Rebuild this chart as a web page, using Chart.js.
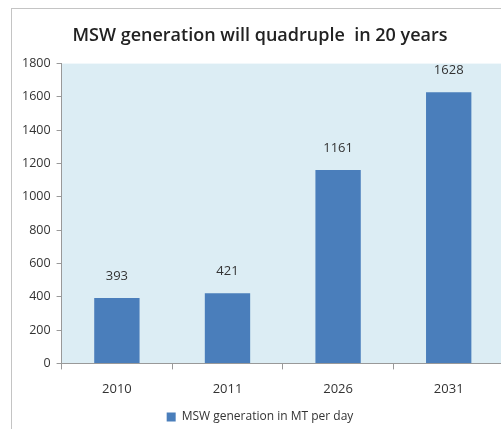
<!DOCTYPE html>
<html>
<head>
<meta charset="utf-8">
<script src="https://cdn.jsdelivr.net/npm/chart.js@4"></script>
<style>
  html, body { margin: 0; padding: 0; background: #fff; overflow: hidden; }
  #box {
    position: absolute; left: 11px; top: 8px;
    width: 492px; height: 424px;
    border: 1px solid #c4c4c4;
  }
</style>
</head>
<body>
<div id="box"><canvas id="myChart" width="492" height="424"></canvas></div>
<script>
const years = ["2010", "2011", "2026", "2031"];
const tonsPerDay = [393, 421, 1161, 1628];
const seriesName = "MSW generation in MT per day";
const chartTitle = "MSW generation will quadruple  in 20 years";

const FONT = "'Open Sans', sans-serif";

// light blue plot background
const plotBg = {
  id: "plotBg",
  beforeDraw(chart) {
    const { ctx, chartArea: a } = chart;
    ctx.save();
    ctx.fillStyle = "#dcedf4";
    ctx.fillRect(a.left, a.top, a.right - a.left, a.bottom - a.top);
    ctx.restore();
  },
};

// value labels above the bars
const barLabels = {
  id: "barLabels",
  afterDatasetsDraw(chart) {
    const ctx = chart.ctx;
    const meta = chart.getDatasetMeta(0);
    ctx.save();
    ctx.fillStyle = "#333";
    ctx.font = "13px " + FONT;
    ctx.textAlign = "center";
    ctx.textBaseline = "middle";
    meta.data.forEach((bar, i) => {
      ctx.fillText(tonsPerDay[i], bar.x, bar.y - 22);
    });
    ctx.restore();
  },
};

new Chart("myChart", {
  type: "bar",
  data: {
    labels: years,
    datasets: [
      {
        label: seriesName,
        data: tonsPerDay,
        backgroundColor: "#4a7ebb",
        borderWidth: 0,
        barPercentage: 0.82,
        categoryPercentage: 0.5,
      },
    ],
  },
  options: {
    responsive: false,
    animation: false,
    devicePixelRatio: 1,
    layout: { padding: { left: 4, right: 0, top: 0, bottom: 0 } },
    plugins: {
      title: {
        display: true,
        text: chartTitle,
        color: "#222",
        font: { family: FONT, size: 18, weight: "600" },
        padding: { top: 16, bottom: 17 },
      },
      legend: {
        position: "bottom",
        labels: {
          color: "#333",
          font: { family: FONT, size: 12 },
          boxWidth: 9,
          boxHeight: 9,
          padding: 2,
        },
      },
      tooltip: { enabled: false },
    },
    scales: {
      x: {
        grid: { display: true, drawOnChartArea: false, tickLength: 6, color: "#999", offset: true },
        border: { color: "#999" },
        ticks: { color: "#333", font: { family: FONT, size: 13 }, padding: 12 },
      },
      y: {
        min: 0,
        max: 1800,
        ticks: {
          stepSize: 200,
          color: "#333",
          font: { family: FONT, size: 12.5 },
          padding: 6,
          callback: (v) => String(v),
        },
        grid: { display: true, drawOnChartArea: false, tickLength: 5, color: "#999" },
        border: { color: "#999" },
      },
    },
  },
  plugins: [plotBg, barLabels],
});
</script>
</body>
</html>
